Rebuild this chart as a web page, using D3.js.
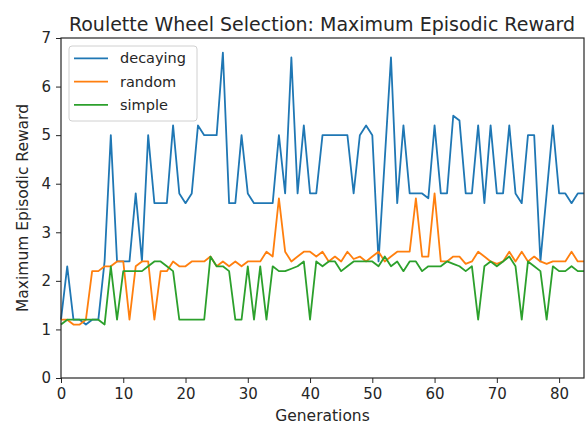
<!DOCTYPE html>
<html>
<head>
<meta charset="utf-8">
<script src="https://cdn.jsdelivr.net/npm/d3@7/dist/d3.min.js"></script>
<style>
  body { margin: 0; background: #fff; }
  svg { display: block; font-family: "DejaVu Sans", sans-serif; }
  .tick text { fill: #262626; }
</style>
</head>
<body>
<div id="chart"></div>
<script>
(function() {
"use strict"

// generations 0..84
var decaying = [1.2, 2.3, 1.2, 1.2, 1.1, 1.2, 1.2, 2.4, 5.0, 2.4,
                2.4, 2.4, 3.8, 2.4, 5.0, 3.6, 3.6, 3.6, 5.2, 3.8,
                3.6, 3.8, 5.2, 5.0, 5.0, 5.0, 6.7, 3.6, 3.6, 5.0,
                3.8, 3.6, 3.6, 3.6, 3.6, 5.0, 3.8, 6.6, 3.8, 5.2,
                3.8, 3.8, 5.0, 5.0, 5.0, 5.0, 5.0, 3.8, 5.0, 5.2,
                5.0, 2.4, 4.5, 6.6, 3.6, 5.2, 3.8, 3.8, 3.8, 3.7,
                5.2, 3.8, 3.8, 5.4, 5.3, 3.8, 3.8, 5.2, 3.6, 5.2,
                3.8, 3.8, 5.2, 3.8, 3.6, 5.0, 5.0, 2.4, 3.8, 5.2,
                3.8, 3.8, 3.6, 3.8, 3.8];
var random = [1.2, 1.2, 1.1, 1.1, 1.2, 2.2, 2.2, 2.3, 2.3, 2.4,
              2.4, 1.2, 2.3, 2.4, 2.4, 1.2, 2.2, 2.2, 2.4, 2.3,
              2.3, 2.4, 2.4, 2.4, 2.5, 2.3, 2.4, 2.3, 2.4, 2.3,
              2.4, 2.4, 2.4, 2.6, 2.5, 3.7, 2.6, 2.4, 2.5, 2.6,
              2.6, 2.5, 2.6, 2.4, 2.5, 2.4, 2.6, 2.45, 2.5, 2.4,
              2.5, 2.6, 2.4, 2.5, 2.6, 2.6, 2.6, 3.7, 2.5, 2.5,
              3.8, 2.4, 2.4, 2.5, 2.5, 2.35, 2.4, 2.6, 2.5, 2.4,
              2.35, 2.4, 2.6, 2.4, 2.6, 2.4, 2.5, 2.4, 2.35, 2.4,
              2.4, 2.4, 2.6, 2.4, 2.4];
var simple = [1.1, 1.2, 1.2, 1.2, 1.2, 1.2, 1.2, 1.1, 2.3, 1.2,
              2.2, 2.2, 2.2, 2.2, 2.3, 2.4, 2.4, 2.3, 2.2, 1.2,
              1.2, 1.2, 1.2, 1.2, 2.5, 2.3, 2.3, 2.2, 1.2, 1.2,
              2.3, 1.2, 2.3, 1.2, 2.3, 2.2, 2.2, 2.25, 2.3, 2.4,
              1.2, 2.4, 2.3, 2.4, 2.4, 2.2, 2.3, 2.4, 2.4, 2.4,
              2.4, 2.3, 2.5, 2.3, 2.4, 2.2, 2.4, 2.4, 2.2, 2.3,
              2.3, 2.3, 2.4, 2.35, 2.3, 2.2, 2.3, 1.2, 2.3, 2.4,
              2.3, 2.4, 2.5, 2.3, 1.2, 2.4, 2.3, 2.2, 1.2, 2.3,
              2.2, 2.2, 2.3, 2.2, 2.2];

var seriesNames = ["decaying", "random", "simple"];
var seriesColors = ["#1f77b4", "#ff7f0e", "#2ca02c"];
var xTicks = [0, 10, 20, 30, 40, 50, 60, 70, 80];
var yTicks = [0, 1, 2, 3, 4, 5, 6, 7];

var W = 585, H = 425;
var margin = {top: 38, right: 1, bottom: 47, left: 61};
var width = W - margin.left - margin.right,
    height = H - margin.top - margin.bottom;

var svg = d3.select("#chart").append("svg")
    .attr("width", W)
    .attr("height", H);

var g = svg.append("g")
    .attr("transform", "translate(" + margin.left + "," + margin.top + ")");

var xscale = d3.scaleLinear().domain([0, 84]).range([0, width]);
var yscale = d3.scaleLinear().domain([0, 7]).range([height, 0]);

// lines
var line = d3.line()
    .x(function(d, i) { return xscale(i); })
    .y(function(d) { return yscale(d); });

[decaying, random, simple].forEach(function(s, k) {
    g.append("path")
        .datum(s)
        .attr("fill", "none")
        .attr("stroke", seriesColors[k])
        .attr("stroke-width", 1.8)
        .attr("stroke-linejoin", "round")
        .attr("d", line);
});

// axes
var xaxis = g.append("g")
    .attr("transform", "translate(0," + height + ")")
    .call(d3.axisBottom(xscale).tickValues(xTicks).tickFormat(d3.format("d"))
        .tickSize(5).tickPadding(5).tickSizeOuter(0));
var yaxis = g.append("g")
    .call(d3.axisLeft(yscale).tickValues(yTicks).tickFormat(d3.format("d"))
        .tickSize(5).tickPadding(5).tickSizeOuter(0));
[xaxis, yaxis].forEach(function(a) {
    a.selectAll("text").style("font-size", "15px").style("font-family", "DejaVu Sans");
    a.selectAll("line").attr("stroke", "#262626");
    a.select(".domain").remove();
});

// frame
g.append("rect")
    .attr("width", width).attr("height", height)
    .attr("fill", "none").attr("stroke", "#262626").attr("stroke-width", 1.2);

// titles
svg.append("text")
    .attr("x", 322).attr("y", 31)
    .attr("text-anchor", "middle")
    .style("font-size", "19px").attr("fill", "#262626")
    .text("Roulette Wheel Selection: Maximum Episodic Reward");

svg.append("text")
    .attr("x", margin.left + width / 2).attr("y", 421)
    .attr("text-anchor", "middle")
    .style("font-size", "15.5px").attr("fill", "#262626")
    .text("Generations");

svg.append("text")
    .attr("transform", "translate(28," + (margin.top + height / 2) + ") rotate(-90)")
    .attr("text-anchor", "middle")
    .style("font-size", "15.5px").attr("fill", "#262626")
    .text("Maximum Episodic Reward");

// legend
var leg = g.append("g").attr("transform", "translate(8,8)");
leg.append("rect")
    .attr("width", 128).attr("height", 75).attr("rx", 3)
    .attr("fill", "#fff").attr("fill-opacity", 0.8)
    .attr("stroke", "#d0d0d0");
seriesNames.forEach(function(name, k) {
    var y = 12.3 + k * 23.3;
    leg.append("line")
        .attr("x1", 5).attr("x2", 39).attr("y1", y).attr("y2", y)
        .attr("stroke", seriesColors[k]).attr("stroke-width", 1.8);
    leg.append("text")
        .attr("x", 51).attr("y", y).attr("dy", "0.35em")
        .style("font-size", "14.5px").attr("fill", "#262626")
        .text(name);
});
})();
</script>
</body>
</html>
